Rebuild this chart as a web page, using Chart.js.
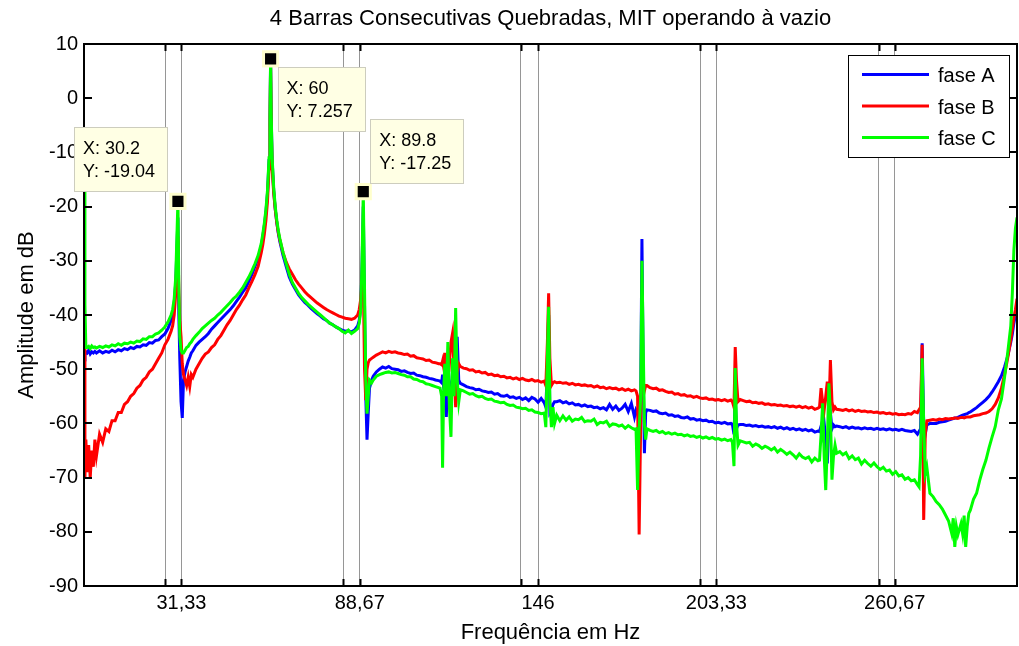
<!DOCTYPE html>
<html><head><meta charset="utf-8">
<script src="https://cdn.jsdelivr.net/npm/chart.js@4.4.1/dist/chart.umd.min.js"></script>
<style>
html,body{margin:0;padding:0;overflow:hidden;background:#fff;}
canvas{display:block;}
</style></head>
<body>
<canvas id="c" width="1030" height="646"></canvas>
<script>
const freq = [0,0.3,0.6,1,1.5,2,2.5,3,3.5,4,
5,6,7,8,9,10,11,12,13,14,
15,16,17,18,19,20,21,22,23,24,
25,26,27,28,28.5,29,29.5,29.8,30.2,30.5,
30.8,31.2,31.6,32,32.5,33,33.5,34,34.5,35,
36,37,38,39,40,41,42,43,44,45,
46,47,48,49,50,51,52,53,54,55,
56,57,57.5,58,58.5,59,59.5,59.8,60,60.2,
60.5,61,61.5,62,62.5,63,64,65,66,67,
68,69,70,71,72,73,74,75,76,77,
78,79,80,81,82,83,84,85,86,87,
88,88.5,89,89.4,89.8,90.2,90.6,91,91.4,91.8,
92.5,93,94,95,96,97,98,99,100,101,
102,103,104,105,106,107,108,109,110,111,
112,113,114,114.5,115,115.3,115.6,116,116.5,117,
117.5,118,118.5,119,119.5,120,120.5,121,122,123,
124,125,126,127,128,129,130,131,132,133,
134,135,136,137,138,139,140,141,142,143,
144,145,146,147,148,148.5,149,149.4,149.8,150.3,
150.8,151.3,152,153,154,155,156,157,158,159,
160,161,162,163,164,165,166,167,168,169,
170,171,172,173,174,175,176,177,177.5,178,
178.5,179,179.4,179.8,180.2,180.6,181,182,183,184,
185,186,187,188,189,190,191,192,193,194,
195,196,197,198,199,200,201,202,203,204,
205,206,207,208,208.5,209,209.4,209.8,210.3,211,
212,213,214,215,216,217,218,219,220,221,
222,223,224,225,226,227,228,229,230,231,
232,233,234,235,236,236.5,237,237.5,238,238.5,
239,239.5,240,240.5,241,241.5,242,243,244,245,
246,247,248,249,250,251,252,253,254,255,
256,257,258,259,260,261,262,263,264,265,
266,267,268,268.5,269,269.5,270,270.5,271,272,
273,274,275,276,277,278,279,279.5,280,280.5,
281,282,282.5,283,283.5,284,284.5,285,286,287,
288,289,290,291,292,293,294,295,296,297,
298,298.5,299,299.5,300];

const faseA = [-46.5,-47,-46.8,-47,-46.5,-47.2,-46.8,-47,-46.7,-47,
-46.6,-47,-46.7,-46.9,-46.5,-46.8,-46.4,-46.6,-46.2,-46.4,
-46,-46.2,-45.8,-45.9,-45.5,-45.6,-45.1,-45.2,-44.7,-44.6,
-44,-43.5,-42.5,-41,-40,-38,-34,-29,-22,-40,
-48,-56,-59,-52,-50.5,-49.5,-48.5,-47.8,-47,-46.6,
-45.6,-45,-44.5,-44,-43.4,-42.6,-42,-41.4,-40.8,-40.2,
-39.6,-39,-38.3,-37.5,-36.7,-35.8,-35,-33.8,-32.5,-31,
-29.5,-27.3,-25.5,-23.5,-21,-17.5,-11.5,-3.5,6.8,-3.5,
-11.5,-17,-20.5,-23,-25,-26.5,-29,-31,-33,-34.3,
-35.3,-36.3,-37,-37.7,-38.2,-38.8,-39.3,-39.8,-40.2,-40.7,
-41,-41.5,-41.8,-42.2,-42.5,-42.8,-43,-42.9,-43.1,-42.8,
-42,-41,-38.5,-31,-20,-38,-55,-63,-58,-53.5,
-52,-51.3,-50.5,-50,-49.6,-49.8,-49.5,-49.9,-50,-50.1,
-50.4,-50.3,-50.6,-50.8,-50.7,-51.1,-51.2,-51.4,-51.5,-51.7,
-51.8,-52,-52.1,-52.2,-52.5,-51,-53,-55,-58.8,-51,
-53,-56,-50,-53,-46,-44,-52,-52.6,-52.9,-53.2,
-53.4,-53.5,-53.8,-53.7,-54,-54.1,-54.3,-54.2,-54.6,-54.5,
-54.9,-55,-54.8,-55.2,-55.1,-55.4,-55.2,-55.6,-55.3,-55.8,
-55.2,-55.5,-56.1,-55.4,-56.2,-57,-50,-40,-58,-57.5,
-56.5,-56,-56,-55.8,-56.2,-56,-56.4,-56.2,-56.6,-56.5,
-56.8,-56.6,-56.9,-56.8,-57.1,-57,-57.3,-57.1,-57.5,-56.5,
-57.4,-56.8,-57.6,-57.2,-56.5,-57.8,-56.3,-58.8,-57.5,-58,
-60,-55,-26,-50,-65.5,-58,-57.5,-57.6,-57.8,-57.7,
-58.1,-58.2,-58.1,-58.5,-58.4,-58.7,-58.6,-58.9,-59,-58.8,
-59.2,-59.1,-59.4,-59.3,-59.5,-59.4,-59.7,-59.6,-59.9,-59.8,
-60,-59.8,-60.1,-60,-60.2,-62,-55,-61,-60.3,-60.2,
-60.2,-60.4,-60.3,-60.5,-60.4,-60.6,-60.5,-60.7,-60.6,-60.8,
-60.6,-60.9,-60.7,-61,-60.8,-61.1,-60.9,-61.2,-61,-61.3,
-61.1,-61.4,-61.2,-61.6,-61.4,-61.5,-60.5,-62,-60,-63,
-67.4,-60,-58,-61,-60.3,-60.6,-60.5,-60.6,-60.8,-60.6,
-60.9,-60.7,-60.9,-60.8,-61,-60.8,-61,-60.9,-61.1,-60.9,
-61.1,-61,-61.2,-61,-61.2,-61.1,-61.3,-61.1,-61.3,-61.4,
-61.5,-61.3,-62,-61.5,-61,-45.2,-60,-62,-60.3,-60,
-60,-60,-59.8,-59.7,-59.6,-59.4,-59.2,-59.1,-59,-59,
-58.9,-58.6,-58.5,-58.4,-58.3,-58.2,-58,-57.9,-57.5,-57.1,
-56.6,-56.1,-55.6,-55,-54.2,-53.3,-52.3,-51.2,-49.6,-47.6,
-45,-43.5,-41.5,-40,-38];

const faseB = [-45,-70,-63,-69,-64,-70,-65,-68,-63,-66,
-62,-63.5,-61,-61.5,-59.5,-59.5,-58,-58,-56.5,-56,
-55,-54.5,-53.5,-53,-52,-51.5,-50.5,-50,-49,-48,
-47,-45.5,-44.5,-43,-42,-40,-36,-31,-25.5,-36,
-41,-44,-49,-51,-52,-53,-51.5,-53.2,-51,-51.5,
-50,-49,-48,-47.2,-46.8,-46,-45.5,-44.5,-43.8,-42.8,
-41.8,-41,-40,-39,-38.2,-37.2,-36.3,-35,-33.8,-32.5,
-31,-28.5,-27,-25,-22.5,-19,-13,-5,6,-5,
-13,-17.5,-20.5,-23,-24.8,-26.2,-28.5,-30.2,-31.5,-32.5,
-33.5,-34.3,-35,-35.7,-36.3,-36.8,-37.3,-37.8,-38.2,-38.6,
-39,-39.3,-39.6,-39.9,-40.2,-40.4,-40.6,-40.7,-40.8,-40.6,
-40,-39,-37,-34,-33,-50,-55.7,-50,-48.8,-48.3,
-48,-47.8,-47.4,-47.1,-46.8,-47,-46.7,-46.9,-46.8,-47,
-47.1,-47.3,-47.2,-47.6,-47.5,-47.9,-48,-48.1,-48.4,-48.3,
-48.7,-48.8,-49,-49,-49.2,-48.5,-49.5,-47,-50,-48,
-49,-45,-43.4,-50,-57,-50.5,-49,-49.5,-49.8,-49.9,
-50.2,-50.1,-50.5,-50.4,-50.7,-50.6,-51,-50.9,-51.2,-51.1,
-51.4,-51.3,-51.6,-51.5,-51.8,-51.6,-51.9,-51.7,-52,-52.1,
-51.9,-52.2,-52.1,-52.4,-52.2,-53,-45,-36,-48,-53,
-52.5,-52.3,-52.5,-52.4,-52.6,-52.5,-52.8,-52.6,-52.9,-52.8,
-53,-52.9,-53.1,-53,-53.3,-53.1,-53.4,-53.3,-53.6,-53.4,
-53.6,-53.5,-53.8,-53.6,-53.9,-53.7,-54,-53.8,-54,-55,
-80.5,-60,-47,-52,-54,-53,-53,-53.4,-53.6,-53.5,
-53.9,-53.8,-54.1,-54.3,-54.2,-54.6,-54.5,-54.8,-54.7,-55,
-54.9,-55.2,-55,-55.3,-55.4,-55.3,-55.6,-55.5,-55.7,-55.6,
-55.8,-55.6,-55.9,-55.7,-56,-57,-45.9,-52,-56,-55.6,
-55.8,-56,-55.9,-56.2,-56.1,-56.3,-56.2,-56.5,-56.4,-56.6,
-56.5,-56.7,-56.6,-56.8,-56.7,-56.9,-56.8,-57,-56.8,-57.1,
-56.9,-57.2,-57,-57.4,-57.2,-57,-53.5,-56,-57.5,-55,
-52.3,-58,-48.3,-56,-57.5,-57,-57.4,-57.5,-57.6,-57.4,
-57.7,-57.5,-57.8,-57.6,-57.8,-57.7,-57.9,-57.8,-58,-57.9,
-58.1,-58,-58.2,-58.1,-58.3,-58.2,-58.4,-58.3,-58.4,-58.2,
-58.3,-57.8,-58,-57.5,-57,-45.5,-77.8,-62,-59.5,-59.4,
-59.3,-59.4,-59.2,-59.3,-59.1,-59.2,-59.1,-59.1,-59,-59,
-59.1,-58.9,-58.9,-59,-58.9,-58.8,-58.8,-58.8,-58.6,-58.5,
-58.4,-58.2,-58.1,-57.8,-57.3,-56.5,-55.3,-53.5,-51,-48,
-44.5,-42.5,-40.5,-39,-37];

const faseC = [-16,-38,-46,-46,-45.8,-46.2,-45.7,-46,-45.9,-46.1,
-45.8,-46,-45.7,-45.9,-45.5,-45.7,-45.3,-45.6,-45.2,-45.3,
-45,-45.2,-44.8,-44.9,-44.4,-44.5,-44,-44,-43.5,-43.3,
-42.8,-42.2,-41.3,-40,-39,-37,-33,-27,-19.04,-35,
-44,-46.5,-47,-47,-46.5,-46,-45.8,-45.3,-45,-44.5,
-43.8,-43.2,-42.5,-42,-41.5,-41,-40.6,-40,-39.5,-38.9,
-38.3,-37.7,-37,-36.5,-35.8,-35,-34,-33,-31.8,-30.5,
-29,-26.8,-25,-23,-20.5,-17,-11,-3,7.257,-3,
-11,-16.5,-20,-22.5,-24.5,-26,-28.5,-30.5,-32.5,-34,
-35,-36,-36.8,-37.4,-38,-38.5,-39,-39.5,-40,-40.5,
-41,-41.5,-41.8,-42.2,-42.5,-43,-43.3,-42.8,-43.4,-43,
-42.5,-41.5,-39,-30,-17.25,-35,-52,-58.2,-55,-52,
-52.5,-52,-51.3,-51,-50.8,-50.6,-50.5,-50.7,-50.6,-50.8,
-51,-51.1,-51.4,-51.4,-51.8,-51.9,-52.2,-52.3,-52.7,-52.8,
-53,-53.2,-53.4,-53.5,-55,-68.2,-55,-49,-55,-45,
-57,-62.5,-48,-55,-38.7,-52,-56,-53.8,-54,-54.3,
-54.6,-54.5,-54.9,-55.1,-55,-55.4,-55.6,-55.5,-55.9,-56,
-56.2,-56.1,-56.5,-56.7,-56.6,-57,-57.1,-57.3,-57.2,-57.6,
-57.5,-57.9,-58,-58.2,-58.1,-60.7,-48,-38.5,-56,-60.7,
-57,-60,-58.5,-59.5,-58.6,-59.4,-58.8,-59.6,-59.2,-59.3,
-58.9,-59.7,-59.5,-59.6,-59.2,-60.2,-59.8,-59.9,-59.6,-60.5,
-60.1,-60.2,-60.5,-60.3,-60.9,-60.4,-60.8,-61.1,-61,-72.3,
-61,-55,-30,-45,-60,-63,-61,-61.3,-61.5,-61.3,
-61.7,-61.5,-61.9,-61.7,-62,-61.8,-62.1,-62,-62.3,-62.1,
-62.4,-62.3,-62.6,-62.4,-62.7,-62.5,-62.8,-62.6,-62.9,-62.8,
-63.1,-62.9,-63.2,-63,-63.5,-67.9,-49.8,-60,-64,-63.2,
-63.4,-63.6,-63.5,-64.2,-63.8,-64.1,-64.6,-64.2,-64.5,-64.9,
-64.5,-65.3,-64.8,-65.2,-65.7,-65.3,-65.8,-66.4,-65.6,-66.2,
-66.5,-66.2,-67.1,-66.4,-66.9,-66.8,-62,-56.3,-66,-72.3,
-64,-52.6,-58,-70.4,-66,-64,-65.5,-65.2,-65.8,-65.4,
-66.5,-66,-66.7,-66.4,-67.5,-66.8,-67.4,-67.9,-67.3,-68,
-68.5,-68.1,-68.8,-68.6,-69.4,-68.9,-69.7,-69.5,-70.3,-70,
-70.6,-70.4,-71.3,-71.7,-66,-48,-60,-69.2,-68,-72.9,
-73.5,-74.4,-75,-75.8,-76.9,-78,-80.3,-77.5,-82.8,-79,
-80.5,-78.5,-80.3,-77,-82.8,-79,-76.6,-76,-74,-72.9,
-70.5,-68.5,-66.8,-64.5,-62.5,-60.6,-57.5,-55.5,-51.5,-47,
-42,-36,-28,-24,-22];

const seriesNames = ['fase A', 'fase B', 'fase C'];
const seriesColors = ['#0000ff', '#ff0000', '#00ff00'];
const tipFreq = [30.2, 60, 89.8];
const tipAmp = [-19.04, 7.257, -17.25];
const xTickValues = [26.07, 31.33, 83.44, 88.67, 140.5, 146, 198.1, 203.33, 255.5, 260.67];
const xTickLabels = ['', '31,33', '', '88,67', '', '146', '', '203,33', '', '260,67'];
const titleText = '4 Barras Consecutivas Quebradas, MIT operando à vazio';
const xTitle = 'Frequência em Hz';
const yTitle = 'Amplitude em dB';

const FONT = "'Liberation Sans', Arial, Helvetica, sans-serif";
const amps = [faseA, faseB, faseC];

const datasets = amps.map((arr, k) => ({
  label: seriesNames[k],
  data: freq.map((f, i) => ({x: f, y: arr[i]})),
  borderColor: seriesColors[k],
  backgroundColor: seriesColors[k],
  borderWidth: 3,
  pointRadius: 0,
  tension: 0,
  order: 3 - k
}));
datasets.push({
  label: 'datatips',
  data: tipFreq.map((f, i) => ({x: f, y: tipAmp[i]})),
  showLine: false,
  pointStyle: 'rect',
  pointRadius: 10,
  pointBorderWidth: 3,
  pointBackgroundColor: '#000',
  pointBorderColor: 'rgb(255,255,205)',
  order: 0
});

const tipPlace = [
  {dx: -11, dy: -10, hx: 'right', vy: 'bottom'},
  {dx: 7, dy: 8, hx: 'left', vy: 'top'},
  {dx: 7, dy: -9, hx: 'left', vy: 'bottom'}
];

const overlay = {
  id: 'overlay',
  afterDraw(chart) {
    const {ctx, chartArea: a, scales: {x, y}} = chart;
    ctx.save();
    ctx.strokeStyle = '#000';
    ctx.lineWidth = 2;
    ctx.strokeRect(a.left, a.top, a.right - a.left, a.bottom - a.top);
    const L = 7;
    ctx.beginPath();
    xTickValues.forEach(v => {
      const px = Math.round(x.getPixelForValue(v)) + 0.5;
      ctx.moveTo(px, a.bottom); ctx.lineTo(px, a.bottom - L);
      ctx.moveTo(px, a.top); ctx.lineTo(px, a.top + L);
    });
    y.ticks.forEach(t => {
      const py = Math.round(y.getPixelForValue(t.value));
      ctx.moveTo(a.left, py); ctx.lineTo(a.left + L + 1, py);
      ctx.moveTo(a.right, py); ctx.lineTo(a.right - L - 1, py);
    });
    ctx.stroke();

    ctx.font = '18px ' + FONT;
    ctx.textBaseline = 'middle';
    ctx.textAlign = 'left';
    tipFreq.forEach((f, i) => {
      const mx = x.getPixelForValue(f), my = y.getPixelForValue(tipAmp[i]);
      const l1 = 'X: ' + f, l2 = 'Y: ' + tipAmp[i];
      const w = Math.ceil(Math.max(ctx.measureText(l1).width, ctx.measureText(l2).width)) + 20;
      const h = 64;
      const p = tipPlace[i];
      const bx = p.hx === 'right' ? mx + p.dx - w : mx + p.dx;
      const by = p.vy === 'bottom' ? my + p.dy - h : my + p.dy;
      ctx.fillStyle = 'rgb(255,255,228)';
      ctx.fillRect(Math.round(bx), Math.round(by), w, h);
      ctx.strokeStyle = 'rgb(205,205,190)';
      ctx.lineWidth = 1;
      ctx.strokeRect(Math.round(bx) + 0.5, Math.round(by) + 0.5, w, h);
      ctx.fillStyle = '#000';
      ctx.fillText(l1, bx + 9, by + 22);
      ctx.fillText(l2, bx + 9, by + 45);
    });

    const lgW = 161, lgH = 102;
    const lx = a.right - 169, ly = a.top + 11;
    ctx.fillStyle = '#fff';
    ctx.fillRect(lx, ly, lgW, lgH);
    ctx.strokeStyle = '#000';
    ctx.lineWidth = 1;
    ctx.strokeRect(lx + 0.5, ly + 0.5, lgW, lgH);
    ctx.font = '20px ' + FONT;
    ctx.textBaseline = 'alphabetic';
    seriesNames.forEach((n, k) => {
      const ry = ly + 19.5 + k * 31.5;
      ctx.strokeStyle = seriesColors[k];
      ctx.lineWidth = 3;
      ctx.beginPath();
      ctx.moveTo(lx + 14, ry); ctx.lineTo(lx + 81, ry);
      ctx.stroke();
      ctx.fillStyle = '#000';
      ctx.fillText(n, lx + 90, ry + 7.5);
    });
    ctx.restore();
  }
};

new Chart(document.getElementById('c'), {
  type: 'line',
  data: {datasets},
  plugins: [overlay],
  options: {
    responsive: false,
    animation: false,
    events: [],
    layout: {padding: {left: 0, right: 8, top: 0, bottom: 0}},
    plugins: {
      legend: {display: false},
      tooltip: {enabled: false},
      title: {
        display: true, text: titleText, color: '#000', fullSize: false,
        font: {family: FONT, size: 22, weight: 'normal', lineHeight: 1.2},
        padding: {top: 6, bottom: 11.6}
      }
    },
    scales: {
      x: {
        type: 'linear', min: 0, max: 300,
        afterFit: s => { s.height = 60; },
        afterBuildTicks: s => { s.ticks = xTickValues.map(v => ({value: v})); },
        ticks: {
          autoSkip: false, maxRotation: 0, padding: 5, color: '#000',
          font: {family: FONT, size: 20},
          callback: v => { const i = xTickValues.indexOf(v); return i >= 0 ? xTickLabels[i] : ''; }
        },
        grid: {color: 'rgb(150,150,150)', lineWidth: 1, drawTicks: false},
        border: {display: false},
        title: {display: true, text: xTitle, color: '#000', font: {family: FONT, size: 22}, padding: {top: 0, bottom: 0}}
      },
      y: {
        min: -90, max: 10,
        afterFit: s => { s.width = 84; },
        ticks: {stepSize: 10, padding: 6, color: '#000', font: {family: FONT, size: 20}},
        grid: {display: false, drawTicks: false},
        border: {display: false},
        title: {display: true, text: yTitle, color: '#000', font: {family: FONT, size: 22}, padding: {top: 14, bottom: 0}}
      }
    }
  }
});
</script>
</body></html>
